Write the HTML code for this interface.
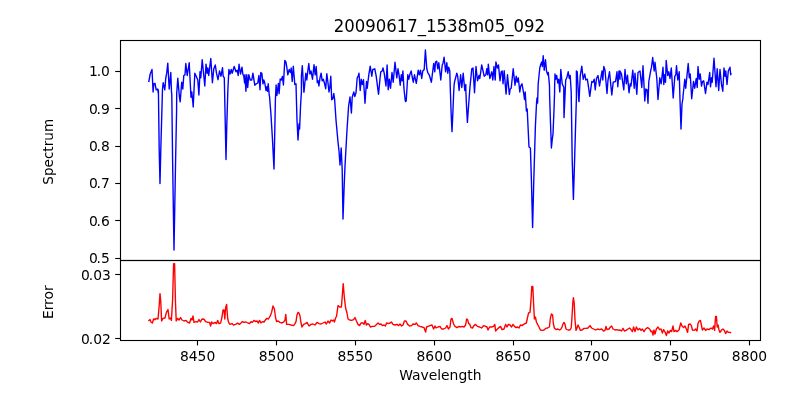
<!DOCTYPE html>
<html><head><meta charset="utf-8"><title>20090617_1538m05_092</title>
<style>
html,body{margin:0;padding:0;background:#fff;}
body{width:800px;height:400px;overflow:hidden;}
svg{display:block;}
text{font-family:"DejaVu Sans","Liberation Sans",sans-serif;fill:#000;}
.t{font-size:13.89px;}
.ttl{font-size:17.7px;}
</style></head><body>
<svg width="800" height="400" viewBox="0 0 800 400">
<rect x="0" y="0" width="800" height="400" fill="#ffffff"/>
<polyline fill="none" stroke="#0000ff" stroke-width="1.39" stroke-linejoin="round" stroke-linecap="butt" points="148.7,82.2 150.2,74.0 152.0,69.5 153.1,92.0 153.8,83.8 155.0,83.3 156.2,89.8 157.7,89.0 158.3,93.5 158.4,90.0 159.2,150.0 160.0,183.6 160.8,150.0 162.4,92.0 162.5,89.0 163.2,82.7 164.8,89.8 165.8,77.8 166.7,73.2 167.8,63.2 169.2,89.0 170.8,72.5 171.5,92.0 171.8,95.0 172.6,160.0 174.0,250.0 175.6,160.0 176.6,110.0 176.7,93.5 177.8,78.2 179.3,95.8 180.2,101.8 181.7,82.2 182.8,89.0 183.8,75.5 185.0,74.8 185.8,63.5 187.2,75.5 189.2,62.8 191.0,97.2 191.8,92.0 192.9,103.2 193.2,107.0 194.8,73.2 196.2,76.2 197.8,80.0 198.9,95.0 200.0,71.8 200.8,77.8 202.2,59.8 204.8,86.0 206.0,64.2 207.1,73.2 207.8,68.0 208.7,75.5 210.8,58.5 212.4,82.7 213.8,68.8 215.3,65.0 216.5,73.2 218.0,79.7 219.5,71.0 221.0,76.2 222.5,67.7 223.2,76.2 224.3,77.8 224.6,92.0 225.4,130.0 226.0,159.6 226.8,125.0 227.8,92.0 228.2,83.0 228.9,69.5 230.0,74.0 231.2,69.5 232.2,73.2 234.2,66.5 236.0,71.8 237.2,70.2 238.2,75.5 239.0,64.2 240.5,74.0 242.0,67.2 242.8,74.0 243.8,76.2 244.6,83.0 245.0,74.8 245.9,91.2 246.8,74.8 247.7,87.5 248.8,74.8 250.2,80.0 251.8,80.0 252.9,73.2 254.8,85.2 256.2,83.8 257.8,83.0 258.9,75.5 260.0,89.8 260.8,72.5 261.8,73.2 263.0,83.8 263.8,80.0 264.8,83.0 266.0,90.5 266.8,86.8 267.5,91.2 268.2,83.8 269.3,95.8 269.5,96.0 271.0,115.0 272.5,140.0 274.0,169.0 274.7,135.0 275.4,100.0 276.1,85.0 276.9,95.5 278.4,83.5 279.1,93.6 280.2,79.0 281.4,80.0 282.4,76.4 283.4,85.0 284.8,60.5 285.8,61.7 286.7,66.5 287.8,74.8 289.2,69.5 290.4,72.5 291.2,68.0 292.2,81.5 293.3,66.2 294.8,84.5 296.0,83.8 296.2,92.0 297.0,120.0 298.0,140.0 299.0,124.0 299.6,129.0 300.6,105.0 301.4,92.0 301.4,76.2 302.3,65.8 303.9,92.3 304.0,92.0 305.8,73.2 306.8,80.0 307.7,71.8 308.8,63.5 309.9,74.0 311.0,71.0 312.5,79.2 314.0,64.7 315.2,74.8 316.2,66.5 317.3,82.7 318.2,80.8 318.9,86.0 320.0,77.8 321.1,73.2 322.2,80.8 323.3,79.2 324.5,83.3 325.7,88.7 326.8,73.7 327.8,81.5 329.0,92.0 329.9,86.8 330.8,76.2 331.7,99.8 332.8,98.8 333.8,93.5 334.6,99.0 336.0,120.0 338.0,142.0 339.0,151.0 340.0,165.0 341.2,148.0 342.2,170.0 343.0,219.0 344.2,185.0 345.0,166.0 347.0,130.0 348.6,106.0 350.0,97.0 351.4,113.0 352.2,97.2 353.8,92.0 354.8,96.5 356.0,92.8 357.2,77.8 358.2,76.2 359.0,73.2 360.2,90.5 361.2,79.2 362.3,84.5 363.5,79.7 365.0,103.2 365.0,103.0 366.5,81.5 367.2,88.2 368.8,74.8 370.2,66.2 371.8,76.2 372.8,69.5 374.8,68.8 376.2,76.2 378.5,94.2 378.6,94.0 380.0,78.5 380.8,71.8 382.2,71.0 383.0,68.0 384.2,73.2 386.0,86.0 387.1,65.0 388.2,89.8 389.3,79.2 390.5,88.2 392.0,72.5 393.2,82.2 395.0,62.3 396.8,77.8 398.0,68.8 399.2,76.2 400.2,85.2 401.3,74.8 402.2,80.8 402.9,71.0 404.0,89.0 405.2,100.2 405.6,101.6 406.2,101.0 407.8,74.8 408.8,79.2 410.0,74.0 411.2,71.0 412.2,77.0 413.3,82.2 414.5,74.8 416.3,83.3 418.2,70.2 419.3,74.8 420.5,70.2 421.7,78.5 422.8,71.0 424.2,69.5 425.4,50.0 426.8,68.8 428.0,73.2 429.2,74.8 431.4,82.2 433.7,63.5 434.8,71.8 435.5,62.0 436.7,61.2 437.8,68.8 438.8,62.8 440.8,80.0 442.2,65.0 443.0,63.5 444.1,57.2 445.6,71.8 446.8,62.8 447.8,73.2 448.7,67.2 449.8,71.0 450.4,92.0 451.2,115.0 452.0,131.6 452.9,112.0 453.8,90.0 454.2,83.8 455.0,80.0 456.8,73.2 457.7,76.2 459.1,90.5 460.6,74.8 461.8,87.5 463.2,73.2 464.8,90.5 465.8,84.5 465.9,92.0 466.6,108.0 467.4,122.4 468.4,108.0 469.6,92.0 470.0,86.8 471.8,68.8 473.0,68.0 474.5,92.8 476.0,66.5 477.5,80.8 479.0,75.5 479.8,78.5 481.7,65.0 484.2,76.2 485.8,74.8 486.8,68.8 487.7,74.8 488.3,64.2 489.8,78.5 491.8,71.8 492.8,80.0 494.0,66.5 495.2,80.0 495.9,62.0 497.4,68.0 498.5,65.0 500.0,80.8 501.2,71.8 502.2,71.0 503.0,83.8 504.2,70.7 506.0,93.5 506.1,94.0 507.5,74.8 509.3,94.2 509.4,94.4 510.2,89.0 511.2,88.2 513.2,68.8 515.0,85.2 516.2,76.2 517.2,82.2 518.3,77.8 519.8,92.0 520.7,86.0 522.0,83.8 523.7,93.5 524.5,99.5 525.2,92.0 526.4,111.0 527.2,109.0 529.0,147.0 530.4,148.0 531.4,180.0 532.6,227.6 533.8,180.0 535.4,126.0 536.6,102.0 537.0,98.0 537.6,103.0 538.2,83.8 539.8,68.0 540.8,64.2 541.7,62.0 542.3,66.5 543.2,55.7 544.2,70.2 545.5,59.8 546.5,71.0 547.7,74.8 548.3,72.5 549.5,86.0 549.6,95.0 550.4,120.0 551.4,148.0 552.2,140.0 553.0,134.0 554.0,110.0 554.6,92.0 554.6,87.5 555.0,74.0 555.8,79.2 556.7,75.5 557.8,83.0 558.8,79.2 559.7,91.2 559.8,92.0 560.8,69.5 562.2,83.8 563.8,87.5 563.8,98.0 564.0,117.6 565.0,96.0 565.7,80.0 566.8,77.8 568.2,71.8 569.3,78.5 570.2,75.5 571.2,92.0 572.2,160.0 573.4,199.4 574.6,160.0 576.4,98.0 576.4,71.0 577.2,71.8 578.8,101.0 579.0,101.6 580.2,76.2 581.8,66.2 583.2,79.2 584.8,74.0 585.8,80.0 587.3,79.2 588.5,86.8 589.7,95.8 589.8,96.4 591.8,81.5 593.0,82.2 594.2,79.2 595.2,89.8 596.5,78.5 598.0,75.5 599.5,86.0 600.5,80.0 602.0,71.0 602.8,80.0 603.8,66.5 605.0,70.2 607.0,93.5 608.0,80.0 609.5,71.8 611.8,95.0 613.2,82.2 615.5,81.5 617.0,71.8 617.8,86.8 619.0,71.0 620.0,79.2 620.0,71.0 621.5,74.0 623.8,89.8 625.0,69.5 626.3,83.8 627.5,75.2 629.0,92.8 630.2,83.8 631.0,86.0 632.8,70.2 634.2,88.2 635.0,73.2 636.8,94.2 638.0,72.5 640.0,71.0 641.8,87.5 643.0,65.8 644.8,101.0 645.8,89.0 647.0,89.8 648.0,103.2 648.8,81.5 650.8,70.2 651.5,67.2 652.7,57.5 654.2,71.0 655.0,62.3 656.8,78.5 658.0,99.5 659.8,77.8 661.2,83.8 663.0,67.2 663.8,84.5 664.7,74.8 665.5,82.2 666.2,60.5 667.7,75.5 668.8,71.8 670.0,78.5 671.3,68.0 673.2,98.0 674.8,76.2 675.8,74.8 676.5,65.8 677.8,80.0 679.2,71.8 680.0,100.0 681.0,129.0 682.0,104.0 683.0,98.0 683.0,96.5 684.8,79.2 685.7,88.2 688.2,63.5 689.3,77.8 690.2,74.0 691.7,98.8 693.5,81.5 694.7,88.2 696.2,78.5 697.2,87.5 698.0,66.5 699.2,79.2 700.2,74.0 701.5,86.0 702.5,81.5 703.7,80.8 705.5,93.5 707.0,82.2 708.0,84.5 709.7,72.5 710.5,86.8 711.5,77.8 712.2,82.2 714.0,58.2 716.0,86.8 717.2,68.8 718.7,90.5 720.0,69.5 721.5,84.5 722.8,91.2 724.0,68.0 725.0,76.2 725.8,71.0 727.0,84.5 728.3,71.0 730.0,67.2 730.7,74.8 731.3,73.2"/>
<polyline fill="none" stroke="#ff0000" stroke-width="1.39" stroke-linejoin="round" stroke-linecap="butt" points="148.4,321.0 150.0,319.6 151.0,322.0 152.4,323.0 153.6,319.0 155.0,319.6 156.4,318.4 158.0,319.0 159.0,308.0 160.0,293.6 160.8,302.0 161.6,321.0 163.0,318.4 165.0,318.0 166.4,312.4 168.0,309.6 169.2,319.0 170.4,318.0 171.4,320.4 172.6,300.0 173.6,263.6 174.6,263.6 175.4,300.0 176.2,321.0 177.6,318.4 179.0,320.0 180.6,317.6 182.0,320.0 184.0,321.0 186.0,320.4 188.0,322.4 189.6,323.0 191.0,318.4 192.0,320.0 193.0,316.0 194.0,322.4 196.0,321.6 197.6,322.0 199.0,319.6 200.4,322.0 202.0,319.0 204.0,319.2 205.6,321.6 208.0,322.4 209.6,322.4 210.6,326.0 211.6,322.0 213.0,323.6 215.0,322.4 216.6,323.6 217.6,320.4 219.0,323.6 220.6,323.2 222.0,317.0 223.0,310.0 224.0,310.0 224.8,319.0 225.6,308.0 226.6,304.4 227.6,318.0 228.6,322.4 230.0,324.4 232.0,323.6 233.6,325.0 235.6,324.4 237.6,323.2 239.4,324.4 241.0,323.0 242.4,321.6 244.0,322.4 246.0,322.0 248.0,323.0 249.6,323.6 251.0,321.6 252.4,322.4 254.0,320.4 255.6,321.6 257.0,321.0 258.4,323.0 259.6,320.4 261.0,323.0 262.6,321.6 264.0,322.0 265.6,319.6 267.0,318.4 268.4,319.0 270.0,316.4 271.6,312.4 273.0,306.0 274.4,309.0 275.6,318.0 276.6,321.6 278.0,321.0 280.0,322.4 282.0,323.0 284.0,321.6 285.0,320.0 285.8,314.4 286.6,324.4 289.0,324.4 291.0,325.0 293.6,325.6 295.0,323.6 296.0,321.6 297.0,315.0 298.0,312.4 299.0,313.0 300.0,316.0 301.0,323.0 302.0,327.0 303.6,324.4 305.6,323.6 307.0,322.4 309.0,326.0 311.0,324.4 313.0,324.0 315.0,325.0 317.0,322.4 319.0,323.6 321.0,324.0 323.0,323.0 325.0,322.0 326.4,324.0 328.0,321.0 329.6,323.0 331.0,320.0 332.4,321.0 333.6,320.0 334.4,322.0 335.6,318.0 336.6,316.0 338.0,305.6 339.6,307.0 341.4,307.0 342.4,294.0 343.2,283.6 344.4,298.0 345.6,308.0 347.0,313.0 348.0,319.0 349.6,320.0 351.6,320.4 353.6,319.6 355.0,317.6 356.4,321.0 358.0,324.4 359.6,325.6 361.0,323.0 363.0,323.0 364.0,324.4 365.2,320.4 366.4,325.0 367.6,323.6 369.0,324.4 370.4,327.0 372.4,326.4 374.4,326.4 376.0,325.0 378.0,323.0 379.6,324.4 381.0,324.0 382.4,325.6 384.0,325.0 385.4,326.0 386.6,323.0 388.4,323.6 390.0,323.0 391.4,322.0 393.0,324.4 395.0,325.0 397.0,324.4 398.6,325.6 400.0,324.0 401.6,326.0 403.0,325.0 404.4,321.0 406.0,321.0 407.6,324.4 409.6,326.0 411.6,325.6 413.0,324.0 415.0,324.4 416.4,323.0 418.0,325.6 420.0,326.4 422.0,327.0 424.0,327.6 425.6,332.0 426.6,327.0 428.0,326.4 430.0,325.6 432.0,325.0 433.6,329.0 435.0,326.0 436.0,328.0 438.0,327.0 440.0,326.4 441.6,329.0 443.6,329.0 445.6,328.0 447.0,325.6 448.4,329.0 450.0,327.0 451.0,319.0 452.0,318.4 453.6,324.0 455.0,326.4 457.0,327.6 459.0,326.4 460.0,327.0 462.0,326.4 464.0,327.0 465.6,325.0 466.6,319.0 467.6,319.6 468.6,323.6 469.6,324.0 471.0,327.6 472.4,328.0 474.0,325.6 475.6,324.4 477.6,326.4 479.6,327.0 481.6,328.0 483.6,325.6 485.6,326.4 487.0,327.0 488.0,330.0 489.6,327.0 491.6,327.0 493.6,326.4 494.8,324.4 495.6,331.0 497.0,329.6 499.0,327.6 500.6,326.4 502.0,329.6 504.0,329.0 505.6,324.4 507.0,327.0 508.4,324.4 510.0,325.0 511.6,327.0 513.0,324.4 514.4,326.4 516.0,327.6 517.6,327.0 519.0,328.0 520.4,325.0 522.0,325.6 523.6,324.4 525.0,323.6 526.4,323.0 527.4,318.0 528.6,313.0 530.0,312.4 531.0,300.0 531.8,286.4 532.8,286.4 533.6,304.0 534.4,319.0 535.4,317.0 536.4,322.0 537.6,324.4 539.0,327.0 540.4,330.0 542.4,330.4 544.0,330.0 545.6,328.4 547.6,328.0 549.4,327.0 550.4,318.0 551.4,314.0 552.6,315.0 553.4,324.0 554.4,328.0 556.0,329.6 558.0,329.0 559.6,330.0 561.0,329.0 562.0,327.0 563.0,324.0 564.0,322.4 565.0,324.4 566.0,329.0 568.0,330.0 570.0,330.0 571.2,328.0 572.0,317.0 572.8,303.0 573.4,297.6 574.2,303.0 575.0,320.0 576.0,330.4 577.0,328.0 578.0,325.0 579.0,327.0 580.4,330.4 582.0,330.0 584.0,328.4 586.0,328.4 588.0,328.0 590.0,325.6 591.6,328.0 593.6,329.0 595.6,330.0 597.6,329.0 599.6,329.6 601.6,329.0 603.6,331.0 605.0,330.4 606.0,326.4 607.0,329.6 609.0,329.0 610.4,327.0 611.6,326.0 613.0,329.0 615.0,330.0 617.0,329.6 619.0,330.4 620.0,330.0 621.6,331.0 623.0,328.4 624.4,331.0 626.0,330.4 628.0,329.0 629.6,328.0 631.0,329.6 632.4,331.6 633.6,327.0 635.0,331.6 636.4,327.0 638.0,330.0 639.6,328.4 641.0,330.4 642.4,329.0 644.0,331.6 645.6,329.0 647.6,327.6 649.6,329.0 651.0,331.6 652.0,331.0 653.0,335.0 654.0,330.0 655.0,334.0 656.4,329.0 658.0,327.0 659.6,329.6 661.0,329.0 662.4,333.0 663.6,329.6 665.0,332.0 666.4,335.6 667.6,331.0 669.0,333.0 670.4,330.4 671.6,331.6 673.0,326.0 674.0,331.6 675.6,330.4 677.0,331.6 679.0,330.0 680.0,326.0 680.8,323.0 682.0,326.0 683.6,327.6 685.0,326.0 686.4,329.0 687.6,332.4 688.6,324.4 690.0,324.0 691.4,325.6 692.4,330.0 694.0,330.4 695.6,329.0 697.0,331.0 698.0,323.6 699.2,321.0 700.4,320.4 701.4,325.0 702.4,330.0 704.0,328.0 705.6,330.4 707.0,329.0 709.0,329.6 711.0,328.0 712.4,329.0 713.6,326.0 714.6,330.4 715.6,316.4 716.4,316.4 717.2,327.0 718.0,325.0 719.0,330.0 720.0,332.4 721.6,330.0 723.0,329.0 724.4,330.4 725.6,333.6 727.0,331.0 728.4,332.4 730.0,332.4 731.2,333.0"/>
<g fill="none" stroke="#000" stroke-width="1.11" stroke-linejoin="miter">
<rect x="120.5" y="40.5" width="640" height="220"/>
<rect x="120.5" y="260.5" width="640" height="80"/>
</g>
<g fill="#000">
<rect x="196.945" y="340.5" width="1.11" height="4.9"/>
<rect x="275.945" y="340.5" width="1.11" height="4.9"/>
<rect x="354.945" y="340.5" width="1.11" height="4.9"/>
<rect x="433.945" y="340.5" width="1.11" height="4.9"/>
<rect x="512.945" y="340.5" width="1.11" height="4.9"/>
<rect x="590.945" y="340.5" width="1.11" height="4.9"/>
<rect x="669.945" y="340.5" width="1.11" height="4.9"/>
<rect x="748.945" y="340.5" width="1.11" height="4.9"/>
<rect x="115.2" y="70.945" width="4.8" height="1.11"/>
<rect x="115.2" y="107.945" width="4.8" height="1.11"/>
<rect x="115.2" y="145.945" width="4.8" height="1.11"/>
<rect x="115.2" y="182.945" width="4.8" height="1.11"/>
<rect x="115.2" y="219.945" width="4.8" height="1.11"/>
<rect x="115.2" y="257.945" width="4.8" height="1.11"/>
<rect x="115.2" y="273.945" width="4.8" height="1.11"/>
<rect x="115.2" y="337.945" width="4.8" height="1.11"/>
</g>
<text class="t" x="197.6" y="361.3" text-anchor="middle">8450</text>
<text class="t" x="276.4" y="361.3" text-anchor="middle">8500</text>
<text class="t" x="355.2" y="361.3" text-anchor="middle">8550</text>
<text class="t" x="434.2" y="361.3" text-anchor="middle">8600</text>
<text class="t" x="513.1" y="361.3" text-anchor="middle">8650</text>
<text class="t" x="591.9" y="361.3" text-anchor="middle">8700</text>
<text class="t" x="670.7" y="361.3" text-anchor="middle">8750</text>
<text class="t" x="749.5" y="361.3" text-anchor="middle">8800</text>
<text class="t" x="89" y="76.4" dx="0 -1.05 -0.1">1.0</text>
<text class="t" x="89" y="113.8" dx="0 -1.4 0.2">0.9</text>
<text class="t" x="89" y="151.2" dx="0 -1.4 0.2">0.8</text>
<text class="t" x="89" y="188.0" dx="0 -1.4 0.2">0.7</text>
<text class="t" x="89" y="226.0" dx="0 -1.4 0.2">0.6</text>
<text class="t" x="89" y="263.4" dx="0 -1.4 0.2">0.5</text>
<text class="t" x="81" y="280.0" dx="0 -1.2 0.1 0.05">0.03</text>
<text class="t" x="81" y="343.6" dx="0 -1.2 0.1 0.05">0.02</text>
<text class="ttl" x="439.3" y="31.9" text-anchor="middle" textLength="211.3" lengthAdjust="spacingAndGlyphs">20090617_1538m05_092</text>
<text class="t" x="440.3" y="380" text-anchor="middle">Wavelength</text>
<text class="t" transform="translate(53,151.8) rotate(-90)" text-anchor="middle" textLength="65.8" lengthAdjust="spacingAndGlyphs">Spectrum</text>
<text class="t" transform="translate(53,302.2) rotate(-90)" text-anchor="middle">Error</text>
</svg>
</body></html>
